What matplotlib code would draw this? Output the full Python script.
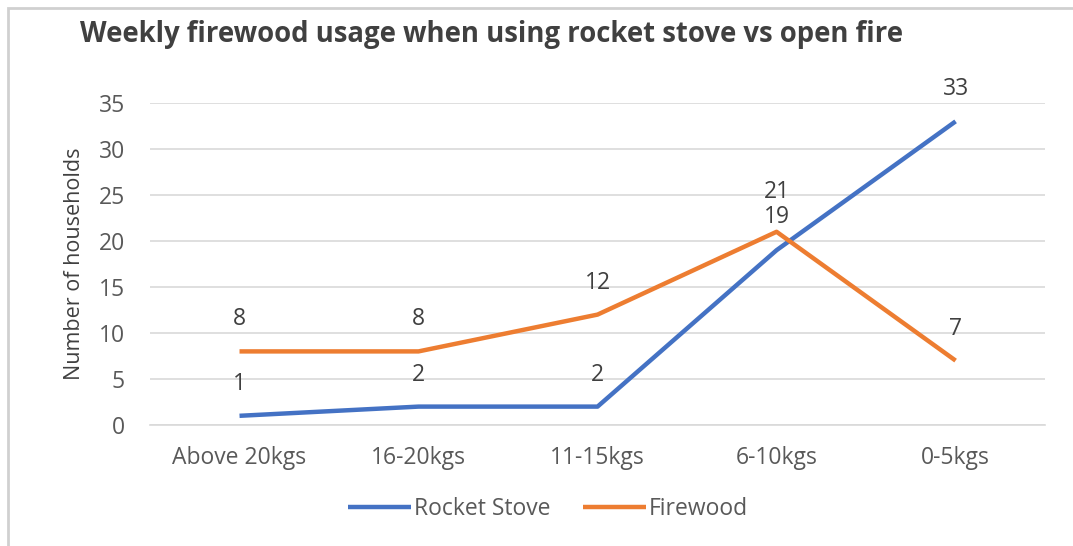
import matplotlib.pyplot as plt
from matplotlib.patches import Rectangle

categories = ["Above 20kgs", "16-20kgs", "11-15kgs", "6-10kgs", "0-5kgs"]
rocketStove = [1, 2, 2, 19, 33]
firewood = [8, 8, 12, 21, 7]
yTicks = [0, 5, 10, 15, 20, 25, 30, 35]

plt.rcParams['font.family'] = ['Open Sans', 'DejaVu Sans']

fig = plt.figure(figsize=(10.73, 5.46), dpi=100)
fig.patch.set_facecolor('white')
ax = fig.add_axes([0.1398, 0.2216, 0.8342, 0.5898])

x = list(range(len(categories)))
ax.plot(x, rocketStove, color='#4472C4', linewidth=3.2, label='Rocket Stove', solid_capstyle='butt')
ax.plot(x, firewood, color='#ED7D31', linewidth=3.2, label='Firewood', solid_capstyle='butt')

# value labels above each point; where the two series nearly meet,
# push the higher label up so both stay readable
for series, other in ((rocketStove, firewood), (firewood, rocketStove)):
    for i, v in zip(x, series):
        dy = 23
        if abs(v - other[i]) <= 3:
            dy = 29 if v > other[i] else 24
        ax.annotate(str(v), (i, v), xytext=(0, dy), textcoords='offset points',
                    ha='center', va='center', fontsize=16.5, color='#404040')

ax.set_xlim(-0.5, len(categories) - 0.5)
ax.set_ylim(0, 35)
ax.set_xticks(x)
ax.set_xticklabels(categories, fontsize=16.5, color='#595959')
ax.set_yticks(yTicks)
ax.set_yticklabels([str(t) for t in yTicks], fontsize=16.5, color='#595959')
ax.tick_params(length=0, pad=15, axis='x')
ax.tick_params(length=0, pad=18, axis='y')

ax.grid(axis='y', color='#d9d9d9', linewidth=1.2)
ax.set_axisbelow(True)
for side in ('top', 'right', 'left'):
    ax.spines[side].set_visible(False)
ax.spines['bottom'].set_color('#d9d9d9')
ax.spines['bottom'].set_linewidth(1.2)

ax.set_ylabel('Number of households', fontsize=15.5, color='#404040', labelpad=10)

fig.text(0.0746, 0.937, 'Weekly firewood usage when using rocket stove vs open fire',
         fontsize=19.8, fontweight='bold', color='#404040', ha='left', va='center')

fig.legend(loc='center', bbox_to_anchor=(0.511, 0.068), ncol=2, frameon=False,
           fontsize=16.5, handlelength=2.75, handletextpad=0.13, columnspacing=1.4,
           labelcolor='#595959')

# light frame along the top and left edges
fig.patches.append(Rectangle((8 / 1073, -0.1), 1.2, 1.1 - 8 / 546, transform=fig.transFigure,
                             fill=False, edgecolor='#d0d0d0', linewidth=2))

fig.savefig('out.png', dpi=100)
